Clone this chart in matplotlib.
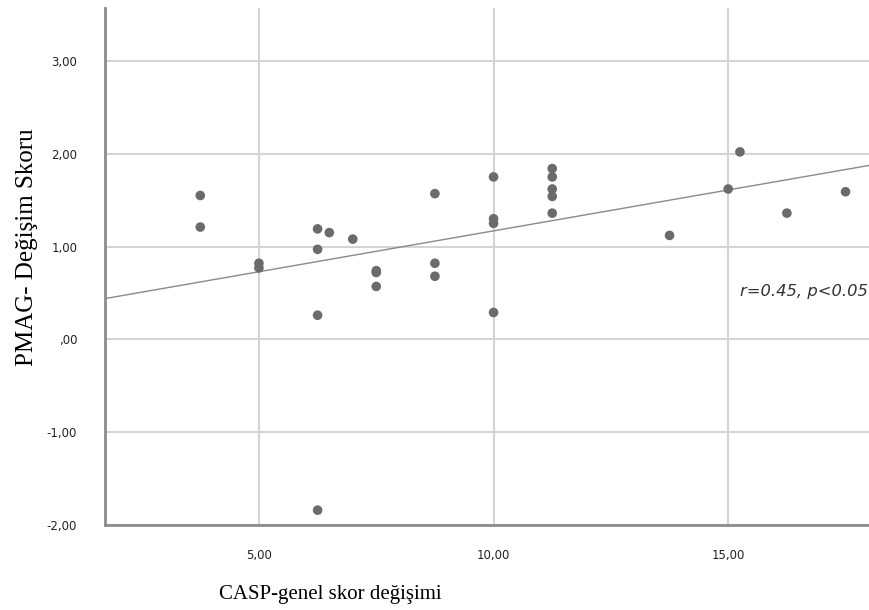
import numpy as np
import matplotlib
matplotlib.use("Agg")
import matplotlib.pyplot as plt

# CASP change (x) vs PMAG change (y)
casp = [3.75, 3.75, 5.0, 5.0, 6.25, 6.5, 7.0, 6.25, 7.5, 7.5, 7.5, 6.25, 6.25,
        8.75, 8.75, 8.75, 10.0, 10.0, 10.0, 10.0,
        11.25, 11.25, 11.25, 11.25, 11.25, 13.75, 15.0, 15.25, 16.25, 17.5]
pmag = [1.55, 1.21, 0.82, 0.77, 1.19, 1.15, 1.08, 0.97, 0.74, 0.72, 0.57, 0.26, -1.84,
        1.57, 0.82, 0.68, 1.75, 1.30, 1.25, 0.29,
        1.84, 1.75, 1.62, 1.54, 1.36, 1.12, 1.62, 2.02, 1.36, 1.59]

# fit line as drawn in the picture
fit_intercept = 0.288
fit_slope = 0.0881

xticks = [5, 10, 15]
yticks = [-2, -1, 0, 1, 2, 3]
ytick_labels = ["-2,00", "-1,00", ",00", "1,00", "2,00", "3,00"]
xtick_labels = ["5,00", "10,00", "15,00"]

fig = plt.figure(figsize=(8.69, 6.10), dpi=100)
ax = fig.add_axes([105/869, 1 - 525/610, 1 - 105/869, (525 - 8)/610])

xlim = (1.72, 18.0)
ax.set_xlim(xlim)
ax.set_ylim(-2.0, 3.57)

ax.grid(True, color="#d4d4d4", linewidth=1.5)
ax.set_axisbelow(True)

xx = np.array(xlim)
ax.plot(xx, fit_intercept + fit_slope * xx, color="#8a8a8a", linewidth=1.0, zorder=2)
ax.scatter(casp, pmag, s=48, color="#6b6b6b", edgecolors="none", zorder=3)

ax.set_xticks(xticks)
ax.set_xticklabels(xtick_labels)
ax.set_yticks(yticks)
ax.set_yticklabels(ytick_labels)
ax.tick_params(length=0, labelsize=8.5, labelcolor="#222222")
ax.tick_params(axis="x", pad=17)
ax.tick_params(axis="y", pad=20)

for s in ["top", "right"]:
    ax.spines[s].set_visible(False)
for s in ["left", "bottom"]:
    ax.spines[s].set_color("#8c8c8c")
    ax.spines[s].set_linewidth(2)

ax.text(0.999, 0.452, "r=0.45, p<0.05", transform=ax.transAxes, ha="right", va="center",
        fontsize=11.8, style="italic", color="#333333", family="DejaVu Sans")

fig.text(330/869, 1 - 595/610, "CASP-genel skor değişimi", ha="center", va="center",
         fontsize=15, family="Liberation Serif")
fig.text(27/869, 1 - 247/610, "PMAG- Değişim Skoru", ha="center", va="center",
         rotation=90, fontsize=18, family="Liberation Serif")

fig.savefig("out.png", dpi=100)
